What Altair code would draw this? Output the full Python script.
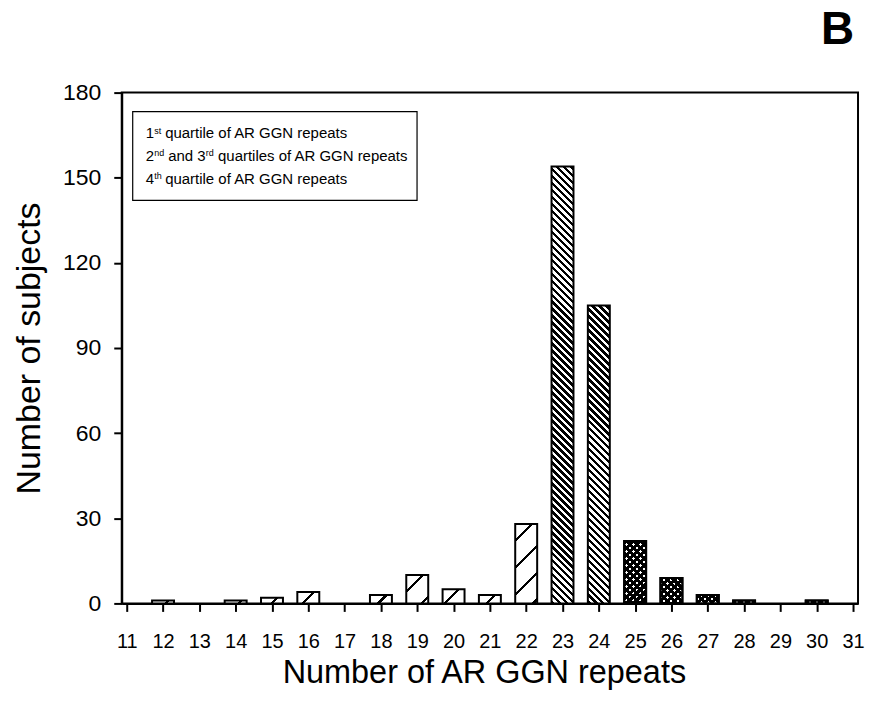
import altair as alt
import pandas as pd

# ---- data ----
repeats = list(range(12, 31))
counts = [1, 0, 1, 2, 4, 0, 3, 10, 5, 3, 28, 154, 105, 22, 9, 3, 1, 0, 1]
groups = ["Q1"] * 11 + ["Q23"] * 2 + ["Q4"] * 6
x_ticks = list(range(11, 32))
y_ticks = [0, 30, 60, 90, 120, 150, 180]

df = pd.DataFrame({"repeats": repeats, "count": counts, "group": groups})

FONT = "Liberation Sans"
W, H = 738, 512
Y_MAX = 180
BAR_W = 22

X = alt.X(
    "repeats:Q",
    scale=alt.Scale(domain=[11, 31], nice=False, zero=False),
    axis=alt.Axis(
        values=x_ticks,
        title="Number of AR GGN repeats",
        labelFontSize=20,
        labelPadding=20,
        titleFontSize=32.5,
        titleX=363,
        titleY=79,
        titleBaseline="alphabetic",
        titleAlign="center",
        titleAnchor="middle",
    ),
)
Y = alt.Y(
    "count:Q",
    scale=alt.Scale(domain=[0, Y_MAX], nice=False),
    axis=alt.Axis(
        values=y_ticks,
        title="Number of subjects",
        labelFontSize=23,
        labelPadding=13,
        titleFontSize=34,
        titleAngle=-90,
        titleX=-82,
        titleY=256,
        titleBaseline="alphabetic",
        titleAlign="center",
        titleAnchor="middle",
    ),
)

CLEAR = "rgba(255,255,255,0)"


def hatch(w, h, direction, period, ink, ink_color="black", paper="white", phase=0.0):
    """Diagonal hatch drawn as a sharp-stop linear gradient in the rect's bbox."""
    span = w + h
    denom = w * w + h * h
    if direction == "down":  # stripes like '\'
        x1, y1 = 0.0, 1.0
        x2 = span * w / denom
        y2 = 1.0 - span * h / denom
    else:  # stripes like '/'
        x1, y1 = 0.0, 0.0
        x2 = span * w / denom
        y2 = span * h / denom
    stops = []
    pos = -phase
    while pos < span:
        a = max(pos, 0.0) / span
        b = min(max(pos + ink, 0.0), span) / span
        c = min(pos + period, span) / span
        stops += [
            alt.GradientStop(offset=round(a, 5), color=ink_color),
            alt.GradientStop(offset=round(b, 5), color=ink_color),
            alt.GradientStop(offset=round(b, 5), color=paper),
            alt.GradientStop(offset=round(c, 5), color=paper),
        ]
        pos += period
    return alt.LinearGradient(
        gradient="linear", stops=stops,
        x1=round(x1, 5), y1=round(y1, 5), x2=round(x2, 5), y2=round(y2, 5),
    )


def bar(r, fill):
    return (
        alt.Chart(df)
        .transform_filter(f"datum.repeats == {r}")
        .mark_bar(width=BAR_W, stroke="black", strokeWidth=2, fill=fill)
        .encode(x=X, y=Y)
    )


bar_layers = []
for r, c, g in zip(repeats, counts, groups):
    if c <= 0:
        continue
    bh = c * H / Y_MAX
    if g == "Q1":
        bar_layers.append(bar(r, hatch(BAR_W, bh, "up", 27, 3.2, phase=12)))
    elif g == "Q23":
        bar_layers.append(bar(r, hatch(BAR_W, bh, "down", 7, 3.6)))
    else:
        bar_layers.append(bar(r, hatch(BAR_W, bh, "down", 7, 4.2)))
        bar_layers.append(bar(r, hatch(BAR_W, bh, "up", 7, 4.2, paper=CLEAR)))

one = pd.DataFrame({"k": [0]})

legend_box = alt.Chart(one).mark_rect(
    fill="white", stroke="black", strokeWidth=1.2
).encode(x=alt.value(11), x2=alt.value(296), y=alt.value(19), y2=alt.value(108))


def txt(s, x, y, size=15, weight="normal"):
    return alt.Chart(one).mark_text(
        text=s, font=FONT, fontSize=size, fontWeight=weight, color="black",
        align="left", baseline="alphabetic",
    ).encode(x=alt.value(x), y=alt.value(y))


legend_parts = [
    txt("1", 24, 46), txt("st", 32.5, 41, 9), txt("quartile of AR GGN repeats", 43.5, 46),
    txt("2", 24, 69), txt("nd", 32.5, 64, 9), txt("and", 46.5, 69),
    txt("3", 75.7, 69), txt("rd", 84.2, 64, 9), txt("quartiles of AR GGN repeats", 96.5, 69),
    txt("4", 24, 92), txt("th", 32.5, 87, 9), txt("quartile of AR GGN repeats", 43.5, 92),
]

panel_letter = txt("B", 701, -49, 46, "bold")

chart = (
    alt.layer(*bar_layers, legend_box, *legend_parts, panel_letter)
    .properties(
        width=W,
        height=H,
        autosize=alt.AutoSizeParams(type="none"),
        padding={"left": 114, "top": 84, "right": 8, "bottom": 92},
    )
    .configure_view(stroke="black", strokeWidth=2)
    .configure_axis(
        grid=False,
        domainColor="black",
        domainWidth=2,
        tickColor="black",
        tickWidth=2,
        tickSize=8,
        labelFont=FONT,
        labelColor="black",
        titleFont=FONT,
        titleColor="black",
        titleFontWeight="normal",
    )
)

chart.save("out.html", embed_options={"renderer": "svg", "actions": False})
